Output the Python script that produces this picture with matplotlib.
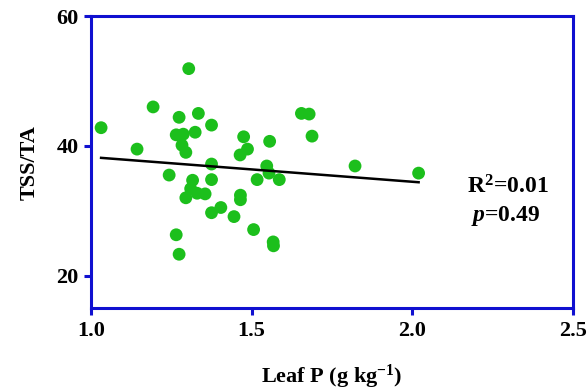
import numpy as np
import matplotlib
matplotlib.use("Agg")
import matplotlib.pyplot as plt

plt.rcParams['font.family'] = ['Liberation Serif', 'DejaVu Serif']
plt.rcParams['font.weight'] = 'bold'
plt.rcParams['mathtext.fontset'] = 'custom'
plt.rcParams['mathtext.rm'] = 'Liberation Serif:bold'
plt.rcParams['mathtext.bf'] = 'Liberation Serif:bold'
plt.rcParams['mathtext.it'] = 'Liberation Serif:italic:bold'

# leaf P (g/kg) and TSS/TA
leaf_p = [1.031, 1.304, 1.193, 1.274, 1.334, 1.375, 1.265, 1.287, 1.324, 1.283,
          1.295, 1.143, 1.475, 1.556, 1.487, 1.464, 1.655, 1.679, 1.688, 1.375,
          1.547, 1.554, 1.586, 1.517, 1.243, 1.375, 1.316, 1.310, 1.330, 1.295,
          1.355, 1.465, 1.465, 1.404, 1.375, 1.445, 1.506, 1.567, 1.568, 1.265,
          1.274, 1.822, 2.020]
tss_ta = [42.8, 51.9, 46.0, 44.4, 45.0, 43.2, 41.7, 41.8, 42.1, 40.1,
          39.0, 39.5, 41.4, 40.7, 39.5, 38.6, 45.0, 44.9, 41.5, 37.2,
          36.9, 35.8, 34.8, 34.8, 35.5, 34.8, 34.7, 33.4, 32.7, 32.0,
          32.6, 32.4, 31.7, 30.5, 29.7, 29.1, 27.1, 25.2, 24.6, 26.3,
          23.3, 36.9, 35.8]

x = np.array(leaf_p)
y = np.array(tss_ta)

fig = plt.figure(figsize=(5.88, 3.92), dpi=100)
ax = fig.add_axes([0.155, 0.214, 0.819, 0.745])

ax.scatter(x, y, s=85, color='#1cbf1c', edgecolors='none', zorder=3)

# linear fit
k, b = np.polyfit(x, y, 1)
xs = np.array([x.min(), x.max()])
ax.plot(xs, k * xs + b, color='black', lw=1.8, zorder=4)

ax.set_xlim(1.0, 2.5)
ax.set_ylim(15, 60)
ax.set_xticks([1.0, 1.5, 2.0, 2.5])
ax.set_yticks([20, 40, 60])
ax.set_xticklabels(['1.0', '1.5', '2.0', '2.5'])

blue = '#1010d0'
for s in ax.spines.values():
    s.set_color(blue)
    s.set_linewidth(2.2)
ax.tick_params(direction='out', length=5, width=2.2, color=blue,
               labelsize=16, pad=4)

ax.set_xlabel('Leaf P (g kg$^{-1}$)', fontsize=16, fontweight='bold', labelpad=16)
ax.set_ylabel('TSS/TA', fontsize=16, fontweight='bold', labelpad=12)

ax.text(0.865, 0.415, 'R$^{2}$=0.01', transform=ax.transAxes,
        fontsize=17, fontweight='bold', ha='center', va='center')
ax.text(0.86, 0.315, '$\\it{p}$=0.49', transform=ax.transAxes,
        fontsize=17, fontweight='bold', ha='center', va='center')

fig.savefig('out.png', dpi=100)
